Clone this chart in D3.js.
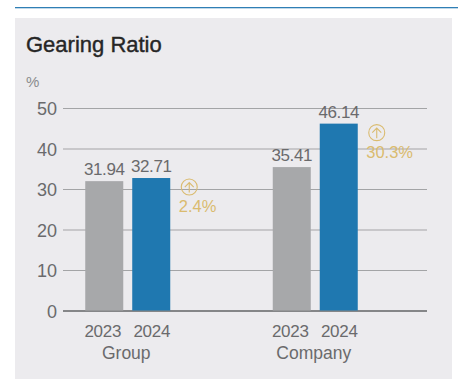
<!DOCTYPE html>
<html>
<head>
<meta charset="utf-8">
<script src="https://cdn.jsdelivr.net/npm/d3@7"></script>
<style>
html,body{margin:0;padding:0;background:#fff;}
svg{display:block;}
text{font-family:"Liberation Sans",Arial,sans-serif;}
</style>
</head>
<body>
<svg id="chart" width="458" height="381"></svg>
<script>
const groups = ["Group", "Company"];
const years = ["2023", "2024"];
const groupValues = [31.94, 32.71];
const companyValues = [35.41, 46.14];
const changes = ["2.4%", "30.3%"];
const yTicks = [0, 10, 20, 30, 40, 50];
const title = "Gearing Ratio";
const unit = "%";

const seriesByGroup = [groupValues, companyValues];
const yearColours = ["#a7a8aa", "#1f78b0"];
const textColour = "#6a6a6c";
const gold = "#dabb6f";

const svg = d3.select("#chart");

// Page rule and panel
svg.append("rect").attr("x", 15).attr("y", 7).attr("width", 443).attr("height", 1.3)
  .attr("fill", "#2f7fb5");
svg.append("rect").attr("x", 15).attr("y", 18).attr("width", 437).attr("height", 361)
  .attr("fill", "#ecebee");

svg.append("text").attr("x", 26).attr("y", 52)
  .attr("font-size", 22)
  .attr("fill", "#262626").attr("stroke", "#262626").attr("stroke-width", 0.4)
  .text(title);
svg.append("text").attr("x", 26).attr("y", 87)
  .attr("font-size", 15).attr("fill", "#8a8b8d").text(unit);

const y = d3.scaleLinear().domain([0, 50]).range([310.5, 108]);
const x0 = d3.scaleBand().domain(groups).range([34, 409]);
const x1 = d3.scaleBand().domain(years).range([-42.5, 42.5]).paddingInner(0.191);

// Gridlines and value axis
const yAxis = d3.axisLeft(y).tickValues(yTicks).tickSize(0).tickPadding(6);
const yG = svg.append("g").attr("transform", "translate(63,0)").call(yAxis);
yG.select(".domain").remove();
yG.selectAll("text").attr("font-size", 18).attr("fill", textColour).attr("dy", 6.5)
  .style("font-family", '"Liberation Sans",Arial,sans-serif');
yG.selectAll(".tick").append("line")
  .attr("x1", 0).attr("x2", 364)
  .attr("stroke", d => d === 0 ? "#636466" : "#a3a4a6")
  .attr("stroke-width", d => d === 0 ? 1.4 : 1.2);

// Year labels sit slightly off their bar centres
const yearLabelOffset = [-1.5, 0.5];

// Bars with value labels, year labels and change callouts
const group = svg.selectAll("g.group").data(groups).join("g")
  .attr("class", "group")
  .attr("transform", d => `translate(${x0(d) + x0.bandwidth() / 2},0)`);

group.each(function (name, gi) {
  const g = d3.select(this);
  const values = seriesByGroup[gi];
  years.forEach((yr, i) => {
    const v = values[i];
    const bx = x1(yr);
    g.append("rect").attr("x", bx).attr("width", x1.bandwidth())
      .attr("y", y(v)).attr("height", y(0) - y(v)).attr("fill", yearColours[i]);
    g.append("text").attr("x", bx + x1.bandwidth() / 2).attr("y", y(v) - 6)
      .attr("text-anchor", "middle").attr("font-size", 17).attr("letter-spacing", -0.4)
      .attr("fill", textColour).text(v.toFixed(2));
    g.append("text").attr("x", bx + x1.bandwidth() / 2 + yearLabelOffset[i]).attr("y", 336.5)
      .attr("text-anchor", "middle").attr("font-size", 17).attr("letter-spacing", -0.3)
      .attr("fill", textColour).text(yr);
  });
  g.append("text").attr("x", -1.5).attr("y", 358.5)
    .attr("text-anchor", "middle").attr("font-size", 17.5)
    .attr("fill", textColour).text(name);

  // Change callout beside the latest bar
  const top = y(values[1]);
  const cx = x1(years[1]) + x1.bandwidth() + 19;
  const cy = top + 9;
  g.append("circle").attr("cx", cx).attr("cy", cy).attr("r", 8)
    .attr("fill", "none").attr("stroke", gold).attr("stroke-width", 1.1);
  g.append("path")
    .attr("d", d3.line()([[cx, cy + 5.5], [cx, cy - 4.5]]) + d3.line()([[cx - 4.5, cy], [cx, cy - 4.5], [cx + 4.5, cy]]))
    .attr("fill", "none").attr("stroke", gold).attr("stroke-width", 1.1);
  g.append("text").attr("x", cx - 10.5).attr("y", cy + 25)
    .attr("font-size", 16.5).attr("fill", gold).text(changes[gi]);
});
</script>
</body>
</html>
